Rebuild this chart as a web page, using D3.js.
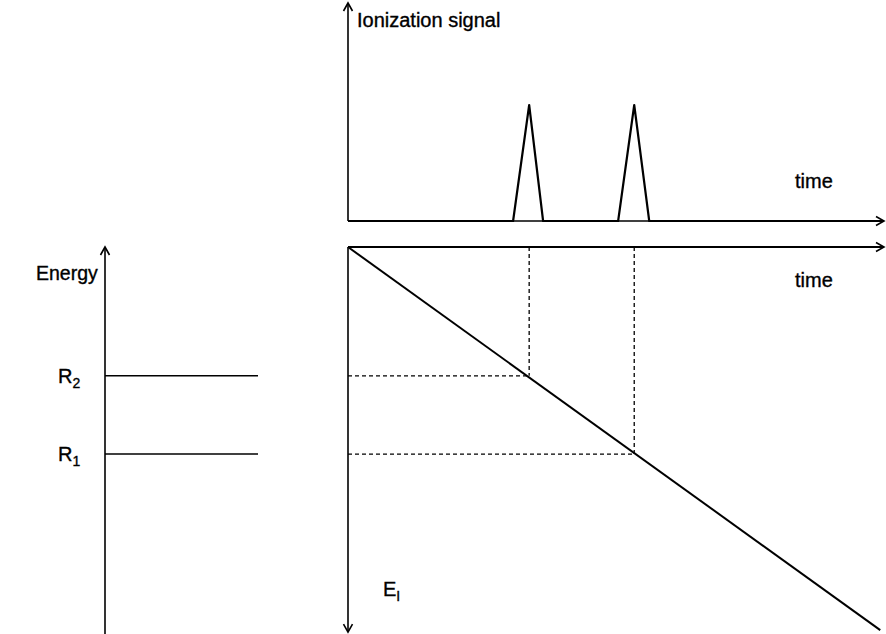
<!DOCTYPE html>
<html><head><meta charset="utf-8">
<script src="https://cdn.jsdelivr.net/npm/d3@7"></script>
<style>html,body{margin:0;padding:0;background:#fff;} text{font-family:"Liberation Sans",Arial,Helvetica,sans-serif;fill:#000;stroke:#000;stroke-width:0.35px;}</style>
</head><body>
<script>
// ---- data ----
const timeDomain = [0, 10];
const signalDomain = [0, 1];
const energyDomain = [0, 10];
// ionization signal trace (time, signal)
const signalTimes  = [0, 3.08, 3.38, 3.64, 5.04, 5.34, 5.62, 10];
const signalValues = [0, 0,    1,    0,    0,    1,    0,    0];
// Rydberg levels
const levelNames  = ["R1", "R2"];
const levelValues = [4.65, 6.67];
// peak times where ramp crosses levels
const peakTimes = [5.34, 3.38];
// field ramp E_I(t)
const rampTimes  = [0, 9.93];
const rampValues = [10, 0.1];

const W = 886, H = 634;
const svg = d3.select("body").append("svg").attr("width", W).attr("height", H);

const defs = svg.append("defs");
defs.append("marker").attr("id","arr").attr("viewBox","-10 -6 12 12")
  .attr("refX",0).attr("refY",0).attr("markerWidth",12).attr("markerHeight",12)
  .attr("markerUnits","userSpaceOnUse").attr("orient","auto")
  .append("path").attr("d","M-8,-4.5 L0,0 L-8,4.5").attr("fill","none").attr("stroke","#000").attr("stroke-width",1.6);

// scales
const x = d3.scaleLinear().domain(timeDomain).range([348, 884]);
const ySig = d3.scaleLinear().domain(signalDomain).range([221, 105]);
const yE = d3.scaleLinear().domain(energyDomain).range([634, 247]);
const xLevel = d3.scaleLinear().domain([0, 1]).range([105, 258]);

const g = svg.append("g").attr("stroke","#000").attr("fill","none");

// top panel axes
g.append("line").attr("x1", x(0)).attr("y1", ySig(0)).attr("x2", x(0)).attr("y2", 3)
  .attr("stroke-width",1.6).attr("marker-end","url(#arr)");
g.append("line").attr("x1", x(0)).attr("y1", ySig(0)).attr("x2", x(10)).attr("y2", ySig(0))
  .attr("stroke-width",1.6).attr("marker-end","url(#arr)");
// signal trace
const sigData = signalTimes.map((t,i)=>[t, signalValues[i]]);
g.append("path").attr("d", d3.line().x(d=>x(d[0])).y(d=>ySig(d[1]))(sigData))
  .attr("stroke-width",2.2).attr("stroke-linejoin","round");

// bottom-right panel axes
g.append("line").attr("x1", x(0)).attr("y1", yE(10)).attr("x2", x(10)).attr("y2", yE(10))
  .attr("stroke-width",1.8).attr("marker-end","url(#arr)");
g.append("line").attr("x1", x(0)).attr("y1", yE(10)).attr("x2", x(0)).attr("y2", yE(0.05))
  .attr("stroke-width",1.6).attr("marker-end","url(#arr)");
// ramp
const rampData = rampTimes.map((t,i)=>[t, rampValues[i]]);
g.append("path").attr("d", d3.line().x(d=>x(d[0])).y(d=>yE(d[1]))(rampData)).attr("stroke-width",2);

// dashed projections
levelValues.forEach((v,i)=>{
  const t = peakTimes[i];
  g.append("line").attr("x1", x(0)).attr("y1", yE(v)).attr("x2", x(t)).attr("y2", yE(v))
    .attr("stroke-width",1.3).attr("stroke-dasharray","4,3");
  g.append("line").attr("x1", x(t)).attr("y1", yE(10)).attr("x2", x(t)).attr("y2", yE(v))
    .attr("stroke-width",1.3).attr("stroke-dasharray","4,3");
});

// left energy diagram
g.append("line").attr("x1", xLevel(0)).attr("y1", H).attr("x2", xLevel(0)).attr("y2", 247)
  .attr("stroke-width",1.6).attr("marker-end","url(#arr)");
levelValues.forEach(v=>{
  g.append("line").attr("x1", xLevel(0)).attr("y1", yE(v)).attr("x2", xLevel(1)).attr("y2", yE(v)).attr("stroke-width",1.5);
});

// texts
const fs = 20;
svg.append("text").attr("x",357).attr("y",27).attr("font-size",fs).text("Ionization signal");
svg.append("text").attr("x",795).attr("y",188).attr("font-size",fs).text("time");
svg.append("text").attr("x",795).attr("y",287).attr("font-size",fs).text("time");
svg.append("text").attr("x",36).attr("y",280).attr("font-size",19.5).text("Energy");
levelNames.forEach((n,i)=>{
  const t = svg.append("text").attr("x",58).attr("y",yE(levelValues[i])+7).attr("font-size",fs);
  t.append("tspan").text(n[0]);
  t.append("tspan").attr("font-size",14).attr("dy",5).text(n.slice(1));
});
const e = svg.append("text").attr("x",383).attr("y",596).attr("font-size",fs);
e.append("tspan").text("E");
e.append("tspan").attr("font-size",14).attr("dy",5).text("I");
</script>
</body></html>
